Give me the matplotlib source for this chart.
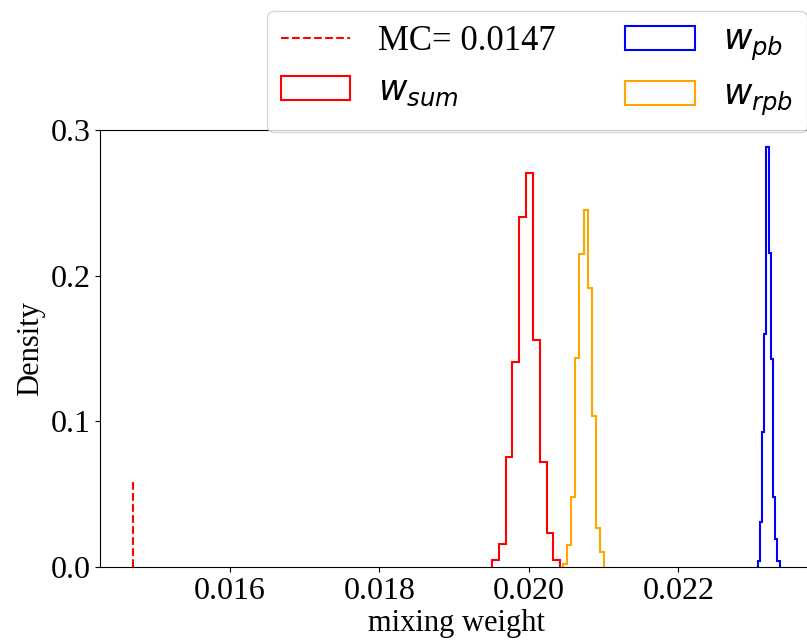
import numpy as np
import matplotlib
matplotlib.use("Agg")
import matplotlib.pyplot as plt
from matplotlib.ticker import FormatStrFormatter

plt.rcParams["font.family"] = ["Liberation Serif", "DejaVu Serif"]
plt.rcParams["mathtext.fontset"] = "dejavusans"

# Monte Carlo reference value and the height of its marker
mc_value = 0.0147
mc_height = 0.06

# Binned mixing-weight estimates (fraction of samples per bin, 10 bins each)
sum_range = (0.019505, 0.02042)
sum_heights = [0.0045, 0.0160, 0.0752, 0.1407, 0.2405, 0.2705, 0.1560, 0.0718, 0.0234, 0.0048]

pb_range = (0.023062, 0.023357)
pb_heights = [0.0040, 0.0307, 0.0929, 0.1600, 0.2880, 0.2153, 0.1430, 0.0483, 0.0190, 0.0040]

rpb_range = (0.020456, 0.021009)
rpb_heights = [0.0021, 0.0151, 0.0478, 0.1437, 0.2149, 0.2451, 0.1918, 0.1039, 0.0266, 0.0105]

x_ticks = [0.016, 0.018, 0.020, 0.022]
y_ticks = [0.0, 0.1, 0.2, 0.3]

fig = plt.figure(figsize=(8.07, 6.43), dpi=100)
ax = fig.add_axes([100 / 807, 76 / 643, 712 / 807, 437 / 643])


def step_hist(heights, rng, color, label):
    lo, hi = rng
    n = len(heights)
    width = (hi - lo) / n
    centers = lo + width * (np.arange(n) + 0.5)
    ax.hist(centers, bins=n, range=rng, weights=heights, histtype="step",
            color=color, linewidth=1.5, label=label)


ax.vlines(mc_value, 0, mc_height, colors="red", linestyles="--", linewidth=1.5,
          label=f"MC= {mc_value}")
step_hist(sum_heights, sum_range, "red", r"$w_{sum}$")
step_hist(pb_heights, pb_range, "blue", r"$w_{pb}$")
step_hist(rpb_heights, rpb_range, "orange", r"$w_{rpb}$")

ax.set_xlim(0.01426, 0.02379)
ax.set_ylim(0, 0.3)
ax.set_xticks(x_ticks)
ax.set_yticks(y_ticks)
ax.xaxis.set_major_formatter(FormatStrFormatter("%.3f"))
ax.yaxis.set_major_formatter(FormatStrFormatter("%.1f"))
ax.tick_params(labelsize=23)
ax.set_xlabel("mixing weight", fontsize=22, labelpad=2)
ax.set_ylabel("Density", fontsize=22)

ax.legend(ncol=2, fontsize=25, loc="upper left",
          bbox_to_anchor=(267 / 807, 1 - 11 / 643),
          bbox_transform=fig.transFigure, borderaxespad=0)

fig.savefig("out.png", dpi=100)
